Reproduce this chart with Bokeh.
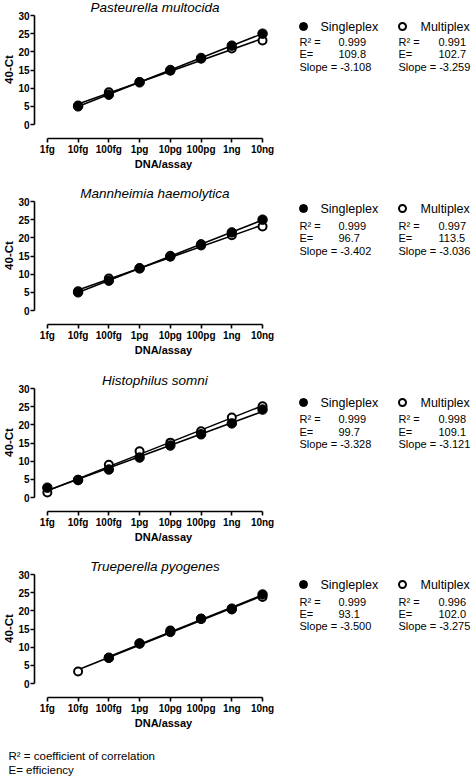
import numpy as np
from bokeh.plotting import figure
from bokeh.layouts import column, row
from bokeh.models import Range1d, FixedTicker, Label
from bokeh.embed import file_html
from bokeh.resources import INLINE

FONT = "Liberation Sans"

# ---------------- data ----------------
dna_labels = ["1fg", "10fg", "100fg", "1pg", "10pg", "100pg", "1ng", "10ng"]
y_ticks = [0, 5, 10, 15, 20, 25, 30]

titles = ["Pasteurella multocida", "Mannheimia haemolytica",
          "Histophilus somni", "Trueperella pyogenes"]

pm_single = [None, 5.0, 8.2, 11.6, 15.0, 18.3, 21.7, 25.0]
pm_multi = [None, 5.2, 8.9, 11.7, 14.8, 18.1, 20.9, 23.1]
mh_single = [None, 5.0, 8.2, 11.6, 15.0, 18.2, 21.5, 25.0]
mh_multi = [None, 5.3, 8.8, 11.6, 14.8, 17.9, 20.7, 23.1]
hs_single = [2.7, 4.8, 7.7, 11.0, 14.3, 17.4, 20.4, 24.2]
hs_multi = [1.4, 4.9, 9.0, 12.7, 15.1, 18.2, 22.0, 25.1]
tp_single = [None, None, 7.1, 11.0, 14.2, 17.8, 20.6, 24.5]
tp_multi = [None, 3.3, 7.0, 11.0, 14.6, 17.8, 20.4, 23.8]

single_values = [pm_single, mh_single, hs_single, tp_single]
multi_values = [pm_multi, mh_multi, hs_multi, tp_multi]

single_r2 = ["0.999", "0.999", "0.999", "0.999"]
single_e = ["109.8", "96.7", "99.7", "93.1"]
single_slope = ["-3.108", "-3.402", "-3.328", "-3.500"]
multi_r2 = ["0.991", "0.997", "0.998", "0.996"]
multi_e = ["102.7", "113.5", "109.1", "102.0"]
multi_slope = ["-3.259", "-3.036", "-3.121", "-3.275"]

footnotes = ["R\u00b2 = coefficient of correlation", "E= efficiency"]

# ---------------- layout constants ----------------
PW, LBORDER = 292, 31
LEGW = 180
PANEL_H = [186, 187, 186, 187]
FRAME_H = 138
PXD = 31.1          # px per decade
PPU = 109.0 / 30.0  # px per Ct unit
legend_rows = [(26, 41, 53, 66), (22, 39, 51, 64), (29, 45, 58, 70), (25, 42, 54, 66)]


def make_plot(k):
    ph = PANEL_H[k]
    x0 = -13.0 / PXD
    p = figure(width=PW, height=ph, output_backend="svg", toolbar_location=None,
               x_range=Range1d(x0, x0 + (PW - LBORDER) / PXD),
               y_range=Range1d(-14.0 / PPU, 30 + 15.0 / PPU),
               min_border_left=LBORDER, min_border_right=0,
               min_border_top=0, min_border_bottom=ph - FRAME_H)
    p.outline_line_color = None
    p.grid.visible = False

    for ax in (p.xaxis[0], p.yaxis[0]):
        ax.axis_line_width = 1.6
        ax.axis_line_color = "black"
        ax.major_tick_line_width = 1.6
        ax.major_tick_line_color = "black"
        ax.major_tick_out = 4
        ax.major_tick_in = 0
        ax.minor_tick_out = 0
        ax.minor_tick_in = 0
        ax.major_label_text_font = FONT
        ax.major_label_text_font_style = "bold"
        ax.major_label_text_font_size = "10px"
        ax.major_label_text_color = "black"
        ax.major_label_standoff = 1
        ax.axis_label_text_font = FONT
        ax.axis_label_text_font_style = "bold"
        ax.axis_label_text_color = "black"
        ax.axis_label_standoff = 0

    xa = p.xaxis[0]
    xa.ticker = FixedTicker(ticks=list(range(len(dna_labels))))
    xa.major_label_overrides = {i: lab for i, lab in enumerate(dna_labels)}
    xa.bounds = (0, len(dna_labels) - 1)
    xa.axis_label = "DNA/assay"
    xa.axis_label_text_font_size = "11px"

    ya = p.yaxis[0]
    ya.ticker = FixedTicker(ticks=y_ticks)
    ya.bounds = (y_ticks[0], y_ticks[-1])
    ya.axis_label = "40-Ct"
    ya.axis_label_text_font_size = "11.5px"

    series = []
    for vals in (multi_values[k], single_values[k]):
        xs = [i for i, v in enumerate(vals) if v is not None]
        ys = [v for v in vals if v is not None]
        series.append((xs, ys))
        fit = np.polyfit(xs, ys, 1)
        ends = [xs[0], xs[-1]]
        p.line(ends, list(np.polyval(fit, ends)), line_color="black", line_width=1.6)

    (mx, my), (sx, sy) = series
    p.scatter(mx, my, marker="circle", size=8, fill_color="white",
              line_color="black", line_width=2)
    p.scatter(sx, sy, marker="circle", size=9.5, fill_color="black",
              line_color="black", line_width=1)

    p.add_layout(Label(x=(len(dna_labels) - 1) / 2.0, y=30 + 8.0 / PPU, text=titles[k],
                       text_align="center", text_baseline="middle",
                       text_font=FONT, text_font_style="italic",
                       text_font_size="13.5px", text_color="black"))
    return p


def make_legend(k):
    ph = PANEL_H[k]
    q = figure(width=LEGW, height=ph, output_backend="svg", toolbar_location=None,
               x_range=Range1d(0, LEGW), y_range=Range1d(FRAME_H, 0),
               x_axis_type=None, y_axis_type=None,
               min_border_left=0, min_border_right=0, min_border_top=0,
               min_border_bottom=ph - FRAME_H)
    q.outline_line_color = None
    q.grid.visible = False
    hy, r1, r2, r3 = legend_rows[k]
    q.scatter([11], [hy], marker="circle", size=8, fill_color="black", line_color="black")
    q.scatter([110], [hy], marker="circle", size=7, fill_color="white",
              line_color="black", line_width=2)

    def lab(x, y, t, size="11px"):
        q.add_layout(Label(x=x, y=y, text=t, text_align="left", text_baseline="middle",
                           text_font=FONT, text_font_size=size, text_color="black"))

    lab(28, hy, "Singleplex", "12.5px")
    lab(128, hy, "Multiplex", "12.5px")
    lab(7, r1, "R\u00b2 =")
    lab(46, r1, single_r2[k])
    lab(7, r2, "E=")
    lab(46, r2, single_e[k])
    lab(7, r3, "Slope = " + single_slope[k])
    lab(106, r1, "R\u00b2 =")
    lab(146, r1, multi_r2[k])
    lab(106, r2, "E=")
    lab(146, r2, multi_e[k])
    lab(106, r3, "Slope = " + multi_slope[k])
    return q


rows = [row(make_plot(k), make_legend(k)) for k in range(4)]

FH = 777 - sum(PANEL_H)
f = figure(width=PW + LEGW, height=FH, output_backend="svg", toolbar_location=None,
           x_range=Range1d(0, PW + LEGW), y_range=Range1d(FH, 0),
           x_axis_type=None, y_axis_type=None,
           min_border_left=0, min_border_right=0, min_border_top=0, min_border_bottom=0)
f.outline_line_color = None
f.grid.visible = False
for i, t in enumerate(footnotes):
    f.add_layout(Label(x=8, y=9 + 14 * i, text=t, text_align="left", text_baseline="middle",
                       text_font=FONT, text_font_size="11.5px", text_color="black"))

layout = column(*rows, f)
open("out.html", "w").write(file_html(layout, INLINE))
